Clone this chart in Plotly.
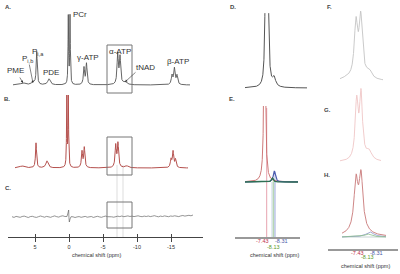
import numpy as np
import plotly.graph_objects as go

W, H = 400, 274
FONT = "Liberation Sans"

# ---------------- data ----------------
# Panel A: full 31P spectrum, peaks as (ppm, height, half-width)
A_ppm    = [6.76, 5.29, 4.75, 2.94, 0.10, -0.15, -2.20, -2.57, -7.16, -7.50, -8.24, -15.15, -15.50, -15.88]
A_height = [2, 3, 33, 6, 68, 68, 17, 21, 30, 27, 3, 9, 16, 9]
A_width  = [0.4, 0.25, 0.09, 0.22, 0.05, 0.05, 0.10, 0.10, 0.11, 0.11, 0.30, 0.12, 0.12, 0.12]

# Panel B: fitted spectrum
B_ppm    = [6.9, 4.85, 3.24, 0.32, 0.10, -1.91, -2.25, -6.87, -7.20, -8.49, -15.0, -15.3, -15.66]
B_height = [2, 25, 7, 70, 70, 16, 20, 22, 24, 2, 8, 16, 8]
B_width  = [0.4, 0.09, 0.2, 0.05, 0.05, 0.10, 0.10, 0.11, 0.11, 0.30, 0.11, 0.11, 0.11]

# Panel C: residual
C_noise = [0.3, -0.4, 0.6, 0.1, -0.3, 0.5, 0.9, 0.2, -0.5, 0.4,
           0.7, 0.0, -0.4, 0.3, 1.0, 0.4, -0.2, 0.6, 0.2, -0.3,
           0.5, 1.1, 0.3, -0.1, 0.8, 1.2, 0.5, 0.2, -0.6, -0.3,
           0.2, -0.5, 0.1, 0.4, -0.3, 0.2, 0.6, -0.2, 0.1, 0.5,
           -0.4, 0.3, 0.7, 0.1, -0.3, 0.4, 0.9, 0.3, 0.6, 0.2,
           -0.2, 0.5, 0.8, 0.4, 1.0, 0.3, 0.7, 1.1, 0.5, 0.9,
           0.4, 0.8, 1.2, 0.6, 0.3, 0.9, 0.5, 1.0, 0.4, 0.8,
           1.3, 0.7, 0.2, 0.9, 0.5, 1.1, 0.6, 0.3, 1.0, 0.7,
           1.2, 0.8, 0.4, 1.1, 1.5, 0.9, 1.3, 1.7, 1.2, 2.0]
C_spike_ppm = [0.30, 0.15, 0.05, -0.05, -0.15, -0.30]
C_spike_val = [0.5, 4, 7, -5, -2, 0.3]

# Panel D: alpha-ATP region
D_ppm    = [-7.32, -7.56, -8.21]
D_height = [120, 120, 9]
D_width  = [0.09, 0.09, 0.2]

# Panel E: fitted components
E_red_ppm,   E_red_h,   E_red_w   = [-7.21], [200], [0.09]
E_blue_ppm,  E_blue_h,  E_blue_w  = [-8.24], [11], [0.13]
E_green_ppm, E_green_h, E_green_w = [-8.03], [4], [0.12]

# Panels F, G, H
F_ppm, F_height, F_width = [-7.28, -7.63, -8.24, -6.6], [54, 60, 8, 2], [0.15, 0.15, 0.25, 0.4]
G_ppm, G_height, G_width = [-7.33, -7.65, -8.24], [57, 64, 9], [0.13, 0.13, 0.25]
H_red_ppm, H_red_h, H_red_w = [-7.28, -7.65, -7.5], [48, 53, 6], [0.17, 0.17, 0.8]
H_blue_ppm, H_blue_h, H_blue_w = [-8.31], [5], [0.35]
H_green_ppm, H_green_h, H_green_w = [-8.13], [3], [0.3]

# markers and tick labels
marker_ppm  = [-7.43, -8.13, -8.31]
marker_text = ["-7.43", "-8.13", "-8.31"]
left_ticks  = [5, 0, -5, -10, -15]
left_tick_text = ["5", "0", "-5", "-10", "-15"]

peak_names = ["PCr", "P<sub>i,a</sub>", "P<sub>i,b</sub>", "PME", "PDE", "γ-ATP", "α-ATP", "tNAD", "β-ATP"]
panel_names = ["A.", "B.", "C.", "D.", "E.", "F.", "G.", "H."]
axis_title = "chemical shift (ppm)"

# ---------------- helpers ----------------
def lorentz(x, cs, hs, ws):
    y = np.zeros_like(x)
    for c, h, w in zip(cs, hs, ws):
        y += h / (1 + ((x - c) / w) ** 2)
    return y

def ppm_L(px): return (69 - px) / 6.8
def ppm_M(px): return -7.43 - (px - 266.7) / 9.4
def ppm_R(px): return -7.43 - (px - 358) / 13.6

def xdom(a, b): return [a / W, b / W]
def ydom(top, bot): return [1 - bot / H, 1 - top / H]
def PX(px): return px / W
def PY(py): return 1 - py / H

fig = go.Figure()

def add(x, y, xa, ya, color, width):
    fig.add_trace(go.Scatter(x=x, y=y, xaxis=xa, yaxis=ya, mode="lines",
                             line=dict(color=color, width=width), hoverinfo="skip",
                             showlegend=False))

# A
xa = np.linspace(ppm_L(13), ppm_L(190), 3000)
add(xa, lorentz(xa, A_ppm, A_height, A_width), "x", "y", "#555555", 0.9)
# B
xb = np.linspace(ppm_L(15), ppm_L(188), 3000)
add(xb, lorentz(xb, B_ppm, B_height, B_width), "x2", "y2", "#b5514e", 1.0)
# C
xc = list(np.linspace(ppm_L(12), ppm_L(193), len(C_noise)))
pts = sorted(list(zip(xc, C_noise)) + list(zip(C_spike_ppm, C_spike_val)), key=lambda t: -t[0])
add([p[0] for p in pts], [p[1] for p in pts], "x3", "y3", "#666666", 0.7)
# D
xd = np.linspace(ppm_M(245), ppm_M(307), 1500)
add(xd, lorentz(xd, D_ppm, D_height, D_width), "x4", "y4", "#555555", 1.0)
# E
xe = np.linspace(ppm_M(245), ppm_M(298), 1500)
add(xe, lorentz(xe, E_red_ppm, E_red_h, E_red_w), "x5", "y5", "#c86a6a", 0.9)
add(xe, lorentz(xe, E_blue_ppm, E_blue_h, E_blue_w), "x5", "y5", "#4c5cb0", 1.2)
add(xe, lorentz(xe, E_green_ppm, E_green_h, E_green_w), "x5", "y5", "#2f6f55", 1.3)
# F
xf = np.linspace(ppm_R(340), ppm_R(383), 1200)
add(xf, lorentz(xf, F_ppm, F_height, F_width), "x6", "y6", "#c4c4c4", 0.9)
# G
xg = np.linspace(ppm_R(340), ppm_R(381), 1200)
add(xg, lorentz(xg, G_ppm, G_height, G_width), "x7", "y7", "#efc6c6", 0.9)
# H
xh = np.linspace(ppm_R(342), ppm_R(386), 1200)
add(xh, np.zeros_like(xh), "x8", "y8", "#b8c8c8", 0.8)
add(xh, lorentz(xh, H_blue_ppm, H_blue_h, H_blue_w), "x8", "y8", "#8a92c8", 0.8)
add(xh, lorentz(xh, H_green_ppm, H_green_h, H_green_w), "x8", "y8", "#8cc08c", 0.8)
add(xh, lorentz(xh, H_red_ppm, H_red_h, H_red_w), "x8", "y8", "#c87878", 0.9)
# dummy for overlay tick axis
fig.add_trace(go.Scatter(x=[0], y=[0], xaxis="x9", yaxis="y3", mode="markers",
                         marker=dict(opacity=0), hoverinfo="skip", showlegend=False))

hidden = dict(visible=False, showgrid=False, zeroline=False)
Lrange = [ppm_L(8), ppm_L(203)]
Mrange4 = [ppm_M(240), ppm_M(310)]
Mrange5 = [ppm_M(235), ppm_M(300)]
Rrange = [ppm_R(328), ppm_R(398)]

layout = dict(
    width=W, height=H, margin=dict(l=0, r=0, t=0, b=0),
    paper_bgcolor="white", plot_bgcolor="white", showlegend=False,
    font=dict(family=FONT, size=6, color="#333333"),
    xaxis=dict(domain=xdom(8, 203), range=Lrange, anchor="y", **hidden),
    yaxis=dict(domain=ydom(5, 95), range=[-10, 80], anchor="x", **hidden),
    xaxis2=dict(domain=xdom(8, 203), range=Lrange, anchor="y2", **hidden),
    yaxis2=dict(domain=ydom(95, 178), range=[-10, 73], anchor="x2", **hidden),
    xaxis3=dict(domain=xdom(8, 203), range=Lrange, anchor="y3", showgrid=False, zeroline=False,
                showline=True, linecolor="#444444", linewidth=1.2,
                tickmode="array", tickvals=left_ticks, ticktext=left_tick_text,
                ticks="outside", ticklen=4, tickwidth=1, tickcolor="#444444",
                tickfont=dict(family=FONT, size=5.5, color="#333333")),
    yaxis3=dict(domain=ydom(190, 237), range=[-20, 27], anchor="x3", **hidden),
    xaxis9=dict(overlaying="x3", range=Lrange, anchor="y3", showgrid=False, zeroline=False,
                showline=False, tickmode="array", tickvals=left_ticks, ticks="inside",
                ticklen=3, tickwidth=1, tickcolor="#444444", showticklabels=False),
    xaxis4=dict(domain=xdom(240, 310), range=Mrange4, anchor="y4", **hidden),
    yaxis4=dict(domain=ydom(13, 92), range=[-4, 75], anchor="x4", **hidden),
    xaxis5=dict(domain=xdom(235, 300), range=Mrange5, anchor="y5", showgrid=False, zeroline=False,
                showline=True, linecolor="#999999", linewidth=1.5, ticks="", showticklabels=False),
    yaxis5=dict(domain=ydom(106, 237), range=[-55, 76], anchor="x5", **hidden),
    xaxis6=dict(domain=xdom(328, 398), range=Rrange, anchor="y6", **hidden),
    yaxis6=dict(domain=ydom(8, 88), range=[-7, 73], anchor="x6", **hidden),
    xaxis7=dict(domain=xdom(328, 398), range=Rrange, anchor="y7", **hidden),
    yaxis7=dict(domain=ydom(88, 168), range=[-6, 74], anchor="x7", **hidden),
    xaxis8=dict(domain=xdom(328, 398), range=Rrange, anchor="y8", showgrid=False, zeroline=False,
                showline=True, linecolor="#999999", linewidth=1.5, ticks="", showticklabels=False),
    yaxis8=dict(domain=ydom(165, 249), range=[-12, 72], anchor="x8", **hidden),
)
fig.update_layout(**layout)

shapes = []
box = dict(type="rect", line=dict(color="#777777", width=1), fillcolor="rgba(0,0,0,0)")
shapes.append(dict(box, xref="x", yref="y", x0=ppm_L(107), x1=ppm_L(132), y0=85 - 45, y1=85 - 93))
shapes.append(dict(box, xref="x2", yref="y2", x0=ppm_L(107), x1=ppm_L(132), y0=168 - 137, y1=168 - 175))
shapes.append(dict(box, xref="x3", yref="y3", x0=ppm_L(107), x1=ppm_L(132), y0=217 - 202, y1=217 - 228))
for px in (117, 123):
    shapes.append(dict(type="line", xref="x3", yref="paper", x0=ppm_L(px), x1=ppm_L(px),
                       y0=PY(165), y1=PY(237), line=dict(color="#d4d4d4", width=0.8), layer="below"))
# E markers
shapes.append(dict(type="rect", xref="x5", yref="paper", x0=ppm_M(271), x1=ppm_M(275.7),
                   y0=PY(182), y1=PY(237), fillcolor="#e2eaf2", line=dict(width=0), layer="below"))
mcol = ["#e08a9a", "#9ccc8c", "#9aa8dc"]
Etops = [108, 178, 171]
for v, c, t in zip(marker_ppm, mcol, Etops):
    shapes.append(dict(type="line", xref="x5", yref="paper", x0=v, x1=v, y0=PY(t), y1=PY(237),
                       line=dict(color=c, width=0.8), layer="below"))
Htops = [172, 232, 230]
for v, c, t in zip(marker_ppm, mcol, Htops):
    shapes.append(dict(type="line", xref="x8", yref="paper", x0=v, x1=v, y0=PY(t), y1=PY(249),
                       line=dict(color=c, width=0.8), layer="below"))
fig.update_layout(shapes=shapes)

ann = []
def txt(s, px, py, size=7.5, color="#333333", bold=False, xanchor="center"):
    ann.append(dict(text=("<b>%s</b>" % s) if bold else s, x=PX(px), y=PY(py), xref="paper", yref="paper",
                    showarrow=False, xanchor=xanchor, yanchor="middle",
                    font=dict(family=FONT, size=size, color=color)))

panel_pos = [(8, 7), (7, 99), (8, 188), (233, 7), (232, 99), (329, 7), (327, 110), (327, 175)]
for s, (px, py) in zip(panel_names, panel_pos):
    txt(s, px, py, size=6, color="#444444", bold=True)

peak_pos = [(80, 14), (38, 52), (27, 59), (15, 71), (51, 72), (88, 57), (120, 51), (145, 67), (178, 61)]
for s, (px, py) in zip(peak_names, peak_pos):
    txt(s, px, py, size=8)

def arrow(tx, ty, sx, sy):
    ann.append(dict(text="", x=PX(tx), y=PY(ty), xref="paper", yref="paper", showarrow=True,
                    ax=sx - tx, ay=sy - ty, arrowhead=2, arrowsize=0.8, arrowwidth=0.6,
                    arrowcolor="#333333"))
arrow(23, 83, 19, 76)
arrow(33, 83, 29, 63)
arrow(125, 82, 137, 71)

txt(axis_title, 96, 255, size=5.5)
txt(axis_title, 274, 255, size=5.5)
txt(axis_title, 365, 266, size=5.5)

lab_col = ["#c0304a", "#5a9a2a", "#4a5aa8"]
E_lab = [(262, 241), (273, 247), (281, 241)]
H_lab = [(357.5, 253), (367, 257), (376, 253)]
for s, c, (px, py) in zip(marker_text, lab_col, E_lab):
    txt(s, px, py, size=5.5, color=c)
for s, c, (px, py) in zip(marker_text, lab_col, H_lab):
    txt(s, px, py, size=5.5, color=c)

fig.update_layout(annotations=ann)
fig.write_html("out.html", config={"displayModeBar": False, "staticPlot": True},
               post_script="document.body.style.margin='0';document.body.style.overflow='hidden';")
